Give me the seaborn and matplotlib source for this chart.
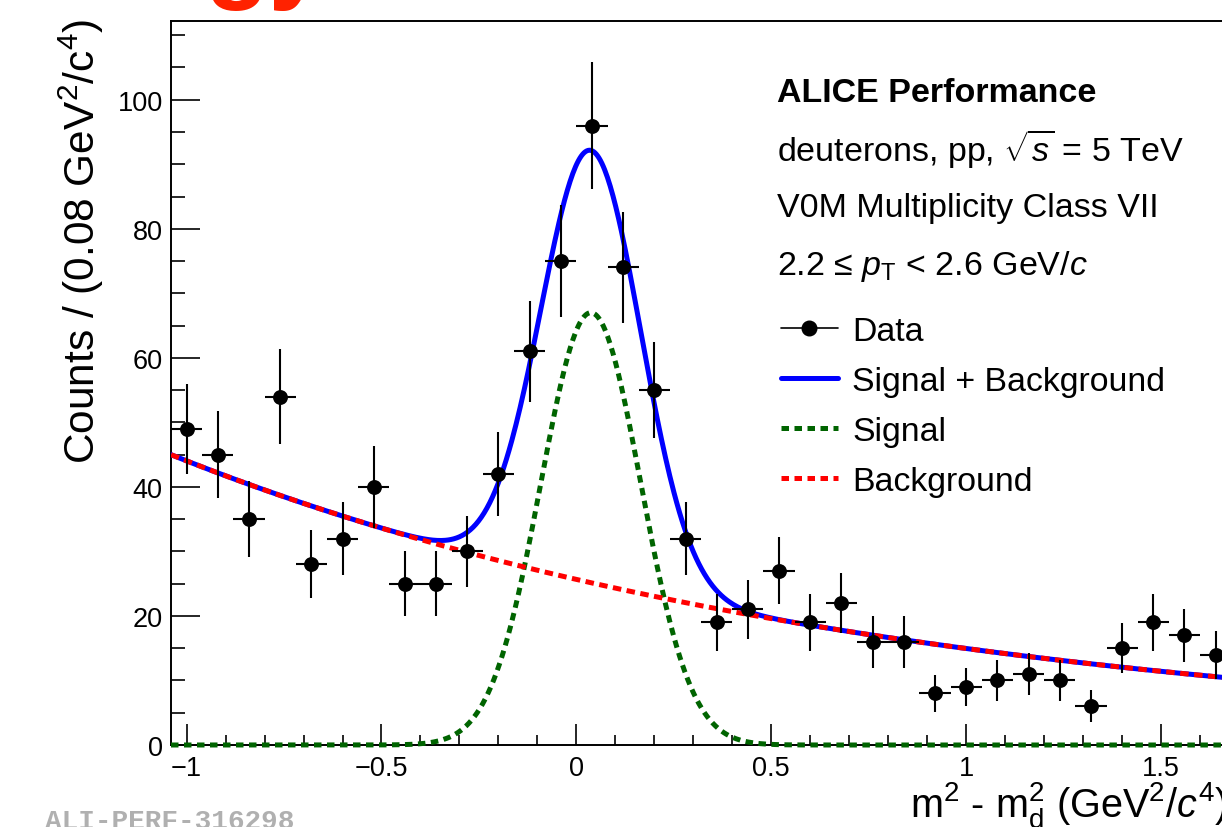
import numpy as np
import pandas as pd
import matplotlib
matplotlib.use("Agg")
import matplotlib.pyplot as plt
from matplotlib.lines import Line2D
from matplotlib.ticker import MultipleLocator, FuncFormatter
import seaborn as sns

# ---------------- data ----------------
bin_centers = [-1.00, -0.92, -0.84, -0.76, -0.68, -0.60, -0.52, -0.44, -0.36, -0.28,
               -0.20, -0.12, -0.04, 0.04, 0.12, 0.20, 0.28, 0.36, 0.44, 0.52,
               0.60, 0.68, 0.76, 0.84, 0.92, 1.00, 1.08, 1.16, 1.24, 1.32,
               1.40, 1.48, 1.56, 1.64]
counts = [49, 45, 35, 54, 28, 32, 40, 25, 25, 30,
          42, 61, 75, 96, 74, 55, 32, 19, 21, 27,
          19, 22, 16, 16, 8, 9, 10, 11, 10, 6,
          15, 19, 17, 14]
bin_half_width = 0.04

# fit parameters
sig_amp = 67.0
sig_mean = 0.037
sig_sigma = 0.128
bkg_norm = 25.66
bkg_slope = -0.54

x_min, x_max = -1.04, 1.80
y_min, y_max = 0.0, 112.2

header_lines = ["ALICE Performance",
                r"deuterons, pp, $\sqrt{s}$ = 5 TeV",
                "V0M Multiplicity Class VII",
                r"2.2 ≤ $p_{\mathrm{T}}$ < 2.6 GeV/$c$"]
legend_labels = ["Data", "Signal + Background", "Signal", "Background"]

# ---------------- style ----------------
sns.set_theme(style="ticks")
plt.rcParams["font.family"] = ["Liberation Sans", "DejaVu Sans"]
plt.rcParams["mathtext.fontset"] = "custom"
plt.rcParams["mathtext.rm"] = "Liberation Sans"
plt.rcParams["mathtext.it"] = "Liberation Sans:italic"
plt.rcParams["mathtext.bf"] = "Liberation Sans:bold"

W, H = 1222, 828
fig = plt.figure(figsize=(W / 100, H / 100), dpi=100)
fig.patch.set_facecolor("white")

ax_left_px, ax_bottom_px, ax_top_px = 171, 746, 22
px_per_unit = 389.8
ax_w = (x_max - x_min) * px_per_unit / W
ax = fig.add_axes([ax_left_px / W, (H - ax_bottom_px) / H, ax_w,
                   (ax_bottom_px - ax_top_px) / H])
ax.set_facecolor("white")

# curves
xs = np.linspace(x_min, x_max, 800)
sig = sig_amp * np.exp(-0.5 * ((xs - sig_mean) / sig_sigma) ** 2)
bkg = bkg_norm * np.exp(bkg_slope * xs)
df = pd.DataFrame({"x": xs, "sig": sig, "bkg": bkg, "tot": sig + bkg})

lw = 3.6
sns.lineplot(data=df, x="x", y="tot", ax=ax, color="#0000ff", linewidth=lw,
             estimator=None, sort=False, zorder=3)
sns.lineplot(data=df, x="x", y="sig", ax=ax, color="#006400", linewidth=lw,
             estimator=None, sort=False, zorder=4, linestyle=(0, (1.5, 1.1)),
             clip_on=False)
sns.lineplot(data=df, x="x", y="bkg", ax=ax, color="#ff0000", linewidth=lw,
             estimator=None, sort=False, zorder=4, linestyle=(0, (1.7, 1.1)))

# data points
dfd = pd.DataFrame({"x": bin_centers, "y": counts})
errs = np.sqrt(np.array(counts, dtype=float))
ax.errorbar(dfd["x"], dfd["y"], yerr=errs, xerr=bin_half_width, fmt="none",
            ecolor="black", elinewidth=1.5, capsize=0, zorder=5)
sns.scatterplot(data=dfd, x="x", y="y", ax=ax, color="black", s=115,
                edgecolor="black", linewidth=0, zorder=6)

ax.set_xlim(x_min, x_max)
ax.set_ylim(y_min, y_max)
ax.set_xlabel("")
ax.set_ylabel("")

for side in ["left", "bottom", "top"]:
    ax.spines[side].set_linewidth(1.4)
    ax.spines[side].set_color("black")
ax.spines["right"].set_visible(False)

fmt = FuncFormatter(lambda v, p: f"{v:g}".replace("-", "\u2212"))
ax.xaxis.set_major_locator(MultipleLocator(0.5))
ax.xaxis.set_minor_locator(MultipleLocator(0.1))
ax.yaxis.set_major_locator(MultipleLocator(20))
ax.yaxis.set_minor_locator(MultipleLocator(5))
ax.xaxis.set_major_formatter(fmt)
ax.yaxis.set_major_formatter(fmt)
ax.tick_params(axis="x", which="major", direction="in", length=15, width=1.4,
               labelsize=19.5, pad=7, top=False, bottom=True, labelcolor="black")
ax.tick_params(axis="x", which="minor", direction="in", length=7.5, width=1.4,
               top=False, bottom=True)
ax.tick_params(axis="y", which="major", direction="in", length=21, width=1.4,
               labelsize=19.5, pad=6, right=False, left=True, labelcolor="black")
ax.tick_params(axis="y", which="minor", direction="in", length=10, width=1.4,
               right=False, left=True)

# axis titles
fig.text(81 / W, 1 - 19 / H, r"Counts / (0.08 GeV$^{2}$/c$^{4}$)",
         rotation=90, ha="center", va="top", fontsize=30.5, color="black")
fig.text(910 / W, 1 - 817 / H,
         r"m$^{2}$ - m$_{\mathrm{d}}^{2}$ (GeV$^{2}$/$c^{4}$)",
         ha="left", va="baseline", fontsize=28.5, color="black")

# header text
header_y = [94, 149, 208, 267]
for i, (t, yy) in enumerate(zip(header_lines, header_y)):
    fig.text(777 / W, 1 - yy / H, t, ha="left", va="center", fontsize=24.5,
             color="black", fontweight="bold" if i == 0 else "normal")

# legend
handles = [
    Line2D([], [], color="black", linewidth=1.2, marker="o", markersize=10.5),
    Line2D([], [], color="#0000ff", linewidth=lw),
    Line2D([], [], color="#006400", linewidth=lw, linestyle=(0, (1.5, 1.1))),
    Line2D([], [], color="#ff0000", linewidth=lw, linestyle=(0, (1.5, 1.1))),
]
leg = ax.legend(handles, legend_labels, loc="upper left",
                bbox_to_anchor=(781 / W, 1 - 317 / H),
                bbox_transform=fig.transFigure, frameon=False, fontsize=24.4,
                handlelength=1.68, handletextpad=0.42, labelspacing=0.56,
                borderpad=0, borderaxespad=0)
for t in leg.get_texts():
    t.set_color("black")

# watermark and cropped red title
fig.text(45 / W, 1 - 809 / H, "ALI-PERF-316298", ha="left", va="top",
         fontsize=20, family="Liberation Mono", fontweight="bold",
         color="#b0b0b0")
fig.text(205 / W, 1 + 11 / H, "gy", ha="left", va="baseline", fontsize=76,
         fontweight="bold", color="#ff2200")

fig.savefig("out.png", dpi=100, facecolor="white")
